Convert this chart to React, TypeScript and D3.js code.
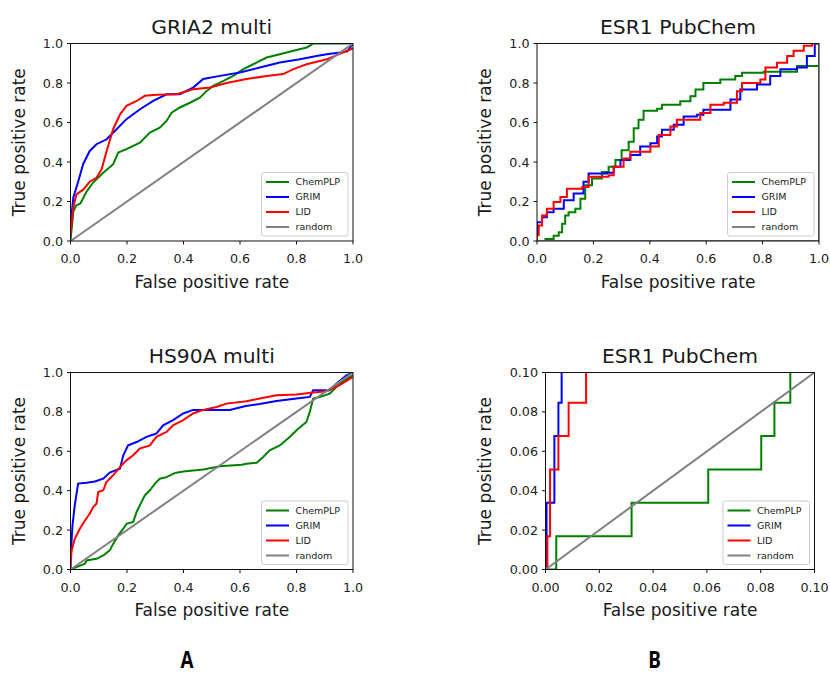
import React from "react";
import * as d3 from "d3";

// ---------- DATA (FPR, TPR pairs) ----------
const seriesNames = ["ChemPLP", "GRIM", "LID", "random"];
const seriesColors = ["#008000", "#0000ff", "#ff0000", "#808080"];

const gria2ChemPLP: [number, number][] = [[0,0],[0.01,0.15],[0.02,0.18],[0.035,0.19],[0.057,0.25],[0.08,0.296],[0.116,0.346],[0.151,0.389],[0.169,0.448],[0.198,0.465],[0.246,0.498],[0.281,0.549],[0.316,0.574],[0.34,0.608],[0.358,0.65],[0.387,0.676],[0.423,0.70],[0.458,0.726],[0.482,0.76],[0.505,0.785],[0.54,0.81],[0.576,0.836],[0.612,0.87],[0.647,0.895],[0.694,0.929],[0.741,0.946],[0.789,0.963],[0.836,0.98],[0.86,1.0],[1.0,1.0]];
const gria2GRIM: [number, number][] = [[0,0.08],[0.01,0.22],[0.027,0.30],[0.045,0.39],[0.068,0.456],[0.092,0.49],[0.128,0.515],[0.157,0.557],[0.198,0.617],[0.246,0.667],[0.293,0.709],[0.34,0.743],[0.387,0.743],[0.434,0.777],[0.47,0.82],[0.529,0.836],[0.6,0.853],[0.67,0.878],[0.741,0.904],[0.812,0.92],[0.871,0.937],[0.907,0.946],[0.954,0.954],[0.98,0.96],[1.0,1.0]];
const gria2LID: [number, number][] = [[0,0.03],[0.005,0.1],[0.01,0.17],[0.021,0.236],[0.045,0.26],[0.068,0.30],[0.092,0.32],[0.11,0.363],[0.128,0.456],[0.151,0.566],[0.175,0.64],[0.198,0.684],[0.234,0.709],[0.263,0.735],[0.305,0.74],[0.375,0.743],[0.434,0.768],[0.494,0.777],[0.553,0.80],[0.623,0.82],[0.694,0.836],[0.753,0.845],[0.789,0.87],[0.836,0.895],[0.907,0.92],[0.978,0.963],[1.0,0.975]];

const esr1ChemPLP: [number, number][] = [[0,0],[0.03,0.01],[0.059,0.027],[0.077,0.044],[0.089,0.087],[0.10,0.129],[0.112,0.146],[0.136,0.163],[0.154,0.214],[0.171,0.282],[0.195,0.316],[0.23,0.35],[0.254,0.376],[0.278,0.41],[0.30,0.46],[0.325,0.503],[0.343,0.571],[0.36,0.614],[0.378,0.66],[0.426,0.67],[0.443,0.69],[0.508,0.707],[0.544,0.733],[0.562,0.767],[0.59,0.80],[0.65,0.818],[0.703,0.835],[0.727,0.852],[0.804,0.857],[0.922,0.886],[1.0,0.886],[1.0,1.0]];
const esr1GRIM: [number, number][] = [[0,0],[0,0.095],[0.018,0.12],[0.035,0.146],[0.059,0.163],[0.095,0.206],[0.13,0.24],[0.165,0.30],[0.183,0.342],[0.248,0.345],[0.272,0.376],[0.296,0.41],[0.331,0.435],[0.366,0.478],[0.402,0.495],[0.426,0.529],[0.443,0.563],[0.485,0.588],[0.52,0.631],[0.567,0.639],[0.59,0.665],[0.662,0.665],[0.686,0.716],[0.721,0.767],[0.78,0.793],[0.827,0.835],[0.863,0.869],[0.922,0.878],[0.957,0.937],[0.985,1.0],[1.0,1.0]];
const esr1LID: [number, number][] = [[0,0],[0,0.03],[0.006,0.078],[0.018,0.129],[0.035,0.163],[0.059,0.197],[0.083,0.223],[0.106,0.265],[0.16,0.274],[0.183,0.325],[0.254,0.333],[0.272,0.376],[0.307,0.418],[0.331,0.452],[0.402,0.478],[0.432,0.537],[0.473,0.58],[0.496,0.614],[0.579,0.648],[0.615,0.69],[0.662,0.70],[0.709,0.758],[0.727,0.80],[0.792,0.818],[0.81,0.878],[0.851,0.903],[0.887,0.937],[0.91,0.963],[0.946,0.988],[0.975,1.0],[1.0,1.0]];

const hs90aChemPLP: [number, number][] = [[0,0],[0.021,0.012],[0.051,0.029],[0.057,0.046],[0.092,0.054],[0.116,0.071],[0.139,0.097],[0.151,0.13],[0.169,0.173],[0.187,0.207],[0.198,0.232],[0.222,0.241],[0.234,0.292],[0.251,0.342],[0.263,0.376],[0.281,0.402],[0.299,0.436],[0.316,0.461],[0.34,0.469],[0.37,0.49],[0.399,0.498],[0.47,0.508],[0.529,0.524],[0.606,0.532],[0.623,0.537],[0.659,0.542],[0.682,0.571],[0.705,0.605],[0.741,0.63],[0.776,0.673],[0.80,0.707],[0.835,0.749],[0.847,0.80],[0.859,0.868],[0.882,0.876],[0.918,0.893],[0.953,0.944],[0.989,0.978],[1.0,0.985]];
const hs90aGRIM: [number, number][] = [[0,0],[0.002,0.1],[0.007,0.224],[0.015,0.325],[0.027,0.436],[0.057,0.44],[0.086,0.447],[0.116,0.461],[0.139,0.492],[0.175,0.512],[0.187,0.58],[0.204,0.63],[0.234,0.647],[0.269,0.673],[0.304,0.69],[0.328,0.732],[0.363,0.758],[0.399,0.792],[0.434,0.81],[0.493,0.81],[0.564,0.81],[0.62,0.83],[0.67,0.84],[0.729,0.855],[0.80,0.868],[0.847,0.876],[0.859,0.91],[0.918,0.91],[0.942,0.944],[0.977,0.986],[1.0,1.0]];
const hs90aLID: [number, number][] = [[0,0],[0,0.02],[0.004,0.097],[0.015,0.156],[0.033,0.207],[0.051,0.249],[0.068,0.283],[0.08,0.317],[0.092,0.334],[0.098,0.393],[0.116,0.402],[0.127,0.444],[0.151,0.478],[0.175,0.52],[0.198,0.554],[0.222,0.58],[0.245,0.614],[0.281,0.63],[0.304,0.673],[0.34,0.698],[0.363,0.732],[0.399,0.758],[0.434,0.792],[0.47,0.81],[0.517,0.825],[0.552,0.842],[0.623,0.854],[0.67,0.868],[0.729,0.885],[0.80,0.888],[0.859,0.898],[0.906,0.905],[0.953,0.936],[0.989,0.969],[1.0,0.975]];

const zoomChemPLP: [number, number][] = [[0,0],[0.004,0],[0.004,0.0169],[0.032,0.0169],[0.032,0.0339],[0.0605,0.0339],[0.0605,0.0508],[0.0802,0.0508],[0.0802,0.0678],[0.0851,0.0678],[0.0851,0.0847],[0.091,0.0847],[0.091,0.1017]];
const zoomGRIM: [number, number][] = [[0,0],[0.0004,0],[0.0004,0.0339],[0.0033,0.0339],[0.0033,0.0678],[0.0048,0.0678],[0.0048,0.0847],[0.006,0.0847],[0.006,0.1017]];
const zoomLID: [number, number][] = [[0,0],[0.0007,0],[0.0007,0.0169],[0.0017,0.0169],[0.0017,0.0508],[0.0048,0.0508],[0.0048,0.0678],[0.0086,0.0678],[0.0086,0.0847],[0.0151,0.0847],[0.0151,0.1017]];

const titles = ["GRIA2 multi", "ESR1 PubChem", "HS90A multi", "ESR1 PubChem"];
const axisMax = [1, 1, 1, 0.1];
const tickFormats = [".1f", ".1f", ".1f", ".2f"];
const xLabel = "False positive rate";
const yLabel = "True positive rate";
const panelLetters = ["A", "B"];

// ---------- LAYOUT ----------
const layout = [
  { x0: 70.5, x1: 353, y0: 43.5, y1: 241, yLab: 46, stepped: false },
  { x0: 537, x1: 819, y0: 43.5, y1: 241, yLab: 46, stepped: true },
  { x0: 70.5, x1: 353, y0: 372.5, y1: 569.5, yLab: 46, stepped: false },
  { x0: 545.5, x1: 814.5, y0: 372.5, y1: 569.5, yLab: 54.5, stepped: false },
];
const panelData = [
  [gria2ChemPLP, gria2GRIM, gria2LID],
  [esr1ChemPLP, esr1GRIM, esr1LID],
  [hs90aChemPLP, hs90aGRIM, hs90aLID],
  [zoomChemPLP, zoomGRIM, zoomLID],
];

const FONT = "'DejaVu Sans', sans-serif";
const TXT = "#1a1a1a";

function Panel({ idx }: { idx: number }) {
  const L = layout[idx];
  const max = axisMax[idx];
  const x = d3.scaleLinear().domain([0, max]).range([L.x0, L.x1]);
  const y = d3.scaleLinear().domain([0, max]).range([L.y1, L.y0]);
  const ticks = d3.range(0, 6).map((i) => (i * max) / 5);
  const fmt = d3.format(tickFormats[idx]);
  const line = d3
    .line<[number, number]>()
    .x((d) => x(d[0]))
    .y((d) => y(d[1]))
    .curve(L.stepped ? d3.curveStepAfter : d3.curveLinear);
  const clipId = `clip${idx}`;
  const series = [...panelData[idx], [[0, 0], [max, max]] as [number, number][]];
  const lw = 86.5, lh = 63.5;
  const lx = L.x1 - 5 - lw, ly = L.y1 - 5 - lh;
  return (
    <g>
      <defs>
        <clipPath id={clipId}>
          <rect x={L.x0} y={L.y0} width={L.x1 - L.x0} height={L.y1 - L.y0} />
        </clipPath>
      </defs>
      <g clipPath={`url(#${clipId})`}>
        {series.map((s, i) => (
          <path key={i} d={line(s) || ""} fill="none" stroke={seriesColors[i]} strokeWidth={2} strokeLinejoin="miter" />
        ))}
      </g>
      <rect x={L.x0} y={L.y0} width={L.x1 - L.x0} height={L.y1 - L.y0} fill="none" stroke="#111" strokeWidth={1} />
      {ticks.map((t, i) => (
        <g key={"x" + i}>
          <line x1={x(t)} x2={x(t)} y1={L.y1} y2={L.y1 + 3.5} stroke="#111" strokeWidth={1} />
          <text x={x(t)} y={L.y1 + 22} textAnchor="middle" fontSize={12.7} fontFamily={FONT} fill={TXT}>{fmt(t)}</text>
        </g>
      ))}
      {ticks.map((t, i) => (
        <g key={"y" + i}>
          <line x1={L.x0 - 3.5} x2={L.x0} y1={y(t)} y2={y(t)} stroke="#111" strokeWidth={1} />
          <text x={L.x0 - 7.5} y={y(t)} dy="0.36em" textAnchor="end" fontSize={12.7} fontFamily={FONT} fill={TXT}>{fmt(t)}</text>
        </g>
      ))}
      <text x={(L.x0 + L.x1) / 2} y={L.y0 - 10} textAnchor="middle" fontSize={20.3} fontFamily={FONT} fill={TXT}>{titles[idx]}</text>
      <text x={(L.x0 + L.x1) / 2} y={L.y1 + 46.5} textAnchor="middle" fontSize={17} fontFamily={FONT} fill={TXT}>{xLabel}</text>
      <text transform={`translate(${L.x0 - L.yLab},${(L.y0 + L.y1) / 2}) rotate(-90)`} textAnchor="middle" fontSize={17} fontFamily={FONT} fill={TXT}>{yLabel}</text>
      <rect x={lx} y={ly} width={lw} height={lh} rx={2.5} fill="#fff" fillOpacity={0.8} stroke="#cccccc" strokeWidth={1} />
      {seriesNames.map((n, i) => (
        <g key={n}>
          <line x1={lx + 4.5} x2={lx + 27.5} y1={ly + 9.5 + i * 15} y2={ly + 9.5 + i * 15} stroke={seriesColors[i]} strokeWidth={2} />
          <text x={lx + 34} y={ly + 9.5 + i * 15} dy="0.36em" fontSize={9.5} fontFamily={FONT} fill={TXT}>{n}</text>
        </g>
      ))}
    </g>
  );
}

export default function App() {
  return (
    <svg width={830} height={673} style={{ position: "absolute", left: 0, top: 0, background: "#fff" }}>
      <rect width={830} height={673} fill="#fff" />
      {[0, 1, 2, 3].map((i) => <Panel key={i} idx={i} />)}
      {panelLetters.map((l, i) => (
        <text key={l} transform={`translate(${i === 0 ? 187 : 654.5},667.5) scale(0.82,1)`} textAnchor="middle" fontSize={23} fontWeight="bold" fontFamily="'Open Sans', sans-serif" fill="#000">{l}</text>
      ))}
    </svg>
  );
}
